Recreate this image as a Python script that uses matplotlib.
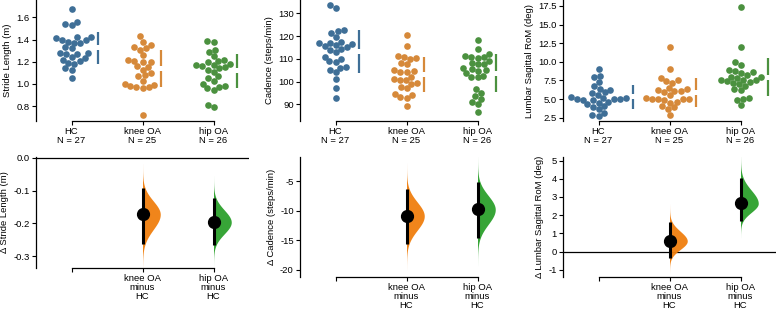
import numpy as np
import matplotlib.pyplot as plt

plt.rcParams['font.family'] = ['Liberation Sans', 'DejaVu Sans']
plt.rcParams['font.size'] = 6.8

# ---- data ----
groups = ['HC', 'knee OA', 'hip OA']

stride_hc = [1.68, 1.56, 1.54, 1.53, 1.42, 1.42, 1.41, 1.40, 1.40, 1.38, 1.37, 1.37, 1.33, 1.32,
             1.28, 1.27, 1.28, 1.27, 1.24, 1.23, 1.22, 1.21, 1.19, 1.18, 1.14, 1.13, 1.05]
stride_knee = [1.43, 1.38, 1.35, 1.33, 1.32, 1.31, 1.26, 1.22, 1.21, 1.20, 1.20, 1.16, 1.15,
               1.13, 1.10, 1.08, 1.07, 1.03, 1.00, 0.99, 0.98, 0.97, 0.97, 0.96, 0.72]
stride_hip = [1.39, 1.38, 1.31, 1.29, 1.25, 1.22, 1.21, 1.20, 1.18, 1.17, 1.17, 1.16, 1.15,
              1.14, 1.13, 1.11, 1.07, 1.05, 1.03, 1.00, 0.98, 0.97, 0.96, 0.95, 0.81, 0.79]

cadence_hc = [133.5, 132.5, 122.5, 122.0, 121.5, 119.5, 117.5, 117.0, 117.0, 116.5, 116.0, 115.5,
              115.0, 114.5, 114.0, 113.0, 111.0, 110.0, 109.0, 108.5, 106.5, 106.0, 105.0, 104.0,
              101.0, 97.0, 93.0]
cadence_knee = [120.3, 115.5, 111.4, 111.0, 110.5, 109.8, 108.3, 107.5, 105.0, 104.5, 104.3, 104.0,
                102.2, 101.0, 100.8, 100.5, 99.5, 98.8, 97.8, 97.0, 94.5, 94.0, 93.3, 93.0, 89.1]
cadence_hip = [118.1, 114.3, 111.9, 111.4, 111.0, 110.8, 110.5, 109.0, 108.3, 107.8, 107.6, 106.0,
               105.5, 105.0, 104.6, 103.6, 102.5, 102.0, 101.8, 96.7, 95.2, 93.8, 92.4, 90.9, 90.1, 86.5]

lumbar_hc = [9.0, 8.1, 7.9, 7.3, 6.7, 6.4, 6.2, 5.9, 5.8, 5.6, 5.3, 5.2, 5.1, 5.0, 5.0, 5.0, 4.9,
             4.9, 4.6, 4.5, 4.3, 4.0, 3.9, 3.6, 3.1, 2.9, 2.7]
lumbar_knee = [12.0, 9.1, 7.8, 7.6, 7.4, 7.2, 6.5, 6.3, 6.2, 6.1, 6.1, 6.0, 5.6, 5.1, 5.0, 5.0, 5.0,
               5.0, 4.9, 4.6, 4.5, 4.0, 3.9, 3.7, 2.9]
lumbar_hip = [17.4, 12.0, 10.0, 9.6, 8.9, 8.8, 8.6, 8.5, 8.2, 8.0, 7.9, 7.8, 7.6, 7.6, 7.5, 7.4, 7.3,
              7.2, 7.0, 6.8, 6.3, 6.2, 5.2, 5.0, 4.9, 4.2]

# mean differences (OA minus HC) with 95% CI
stride_delta = [-0.172, -0.196]
stride_ci = [(-0.263, -0.092), (-0.266, -0.123)]
cadence_delta = [-10.9, -9.8]
cadence_ci = [(-15.6, -6.3), (-14.7, -5.2)]
lumbar_delta = [0.58, 2.65]
lumbar_ci = [(-0.33, 1.63), (1.68, 4.07)]

raw_labels = ['Stride Length (m)', 'Cadence (steps/min)', 'Lumbar Sagittal RoM (deg)']
delta_labels = ['\u0394 Stride Length (m)', '\u0394 Cadence (steps/min)',
                '\u0394 Lumbar Sagittal RoM (deg)']
raw_ticks = [[0.8, 1.0, 1.2, 1.4, 1.6], [90, 100, 110, 120, 130],
             [2.5, 5.0, 7.5, 10.0, 12.5, 15.0, 17.5]]
delta_ticks = [[-0.3, -0.2, -0.1, 0.0], [-20, -15, -10, -5], [-1, 0, 1, 2, 3, 4, 5]]

# ---- layout / style ----
W, H = 778, 309
swarm_colors = ['#3f6f97', '#d6893a', '#4b913f']
violin_colors = ['#f07f0e', '#2ca02c']
col_left = [36, 300, 563]
col_width = 213
top_box = (0, 121)
bottom_box = [(157, 111), (157, 120), (157, 120)]
raw_ylim = [(0.666, 1.757), (82.7, 135.8), (2.05, 18.3)]
delta_ylim = [(-0.336, 0.003), (-21.2, -0.95), (-1.4, 5.2)]
raw_fmt = ['%.1f', '%d', '%.1f']
delta_fmt = ['%.1f', '%d', '%d']


def box(left, top, width, height):
    return [left / W, 1 - (top + height) / H, width / W, height / H]


def swarm_offsets(values, y_px_per_unit, d=6.2):
    # greedy beeswarm in pixel space, returns x offsets in pixels
    order = np.argsort(values)
    ys = np.asarray(values, dtype=float)[order] * y_px_per_unit
    placed = []
    xs_out = np.zeros(len(values))
    for k, y in zip(order, ys):
        cands = [0.0]
        for px, py in placed:
            dy = y - py
            if abs(dy) < d:
                dx = np.sqrt(d * d - dy * dy)
                cands += [px + dx, px - dx]
        cands.sort(key=lambda c: (abs(c), c))
        for c in cands:
            if all((c - px) ** 2 + (y - py) ** 2 >= d * d - 1e-6 for px, py in placed):
                break
        placed.append((c, y))
        xs_out[k] = c
    return xs_out


def style_axes(ax):
    for s in ['top', 'right']:
        ax.spines[s].set_visible(False)
    for s in ['left', 'bottom']:
        ax.spines[s].set_linewidth(0.9)
    ax.spines['bottom'].set_bounds(0, 2)
    ax.tick_params(length=3, width=0.8, pad=1.5, labelsize=6.8)
    ax.set_xlim(-0.5, 2.5)


raw_sets = [[stride_hc, stride_knee, stride_hip],
            [cadence_hc, cadence_knee, cadence_hip],
            [lumbar_hc, lumbar_knee, lumbar_hip]]
deltas = [stride_delta, cadence_delta, lumbar_delta]
cis = [stride_ci, cadence_ci, lumbar_ci]

fig = plt.figure(figsize=(W / 100, H / 100), dpi=100)
x_per_px = 3.0 / col_width

for c in range(3):
    # ---- raw data swarm ----
    ax = fig.add_axes(box(col_left[c], top_box[0], col_width, top_box[1]))
    style_axes(ax)
    lo, hi = raw_ylim[c]
    ax.set_ylim(lo, hi)
    y_ppu = top_box[1] / (hi - lo)
    for g, vals in enumerate(raw_sets[c]):
        vals = np.asarray(vals)
        off = swarm_offsets(vals, y_ppu)
        ax.scatter(g + off * x_per_px, vals, s=23, color=swarm_colors[g], lw=0, zorder=3)
        m, sd = vals.mean(), vals.std(ddof=1)
        lx = g + (off.max() + 7) * x_per_px
        gap = 2.5 / y_ppu
        ax.plot([lx, lx], [m - sd, m - gap], color=swarm_colors[g], lw=1.6, solid_capstyle='butt')
        ax.plot([lx, lx], [m + gap, m + sd], color=swarm_colors[g], lw=1.6, solid_capstyle='butt')
    ax.set_xticks([0, 1, 2])
    ax.set_xticklabels([f'{name}\nN = {len(v)}' for name, v in zip(groups, raw_sets[c])],
                       linespacing=0.95)
    ax.set_yticks(raw_ticks[c])
    ax.yaxis.set_major_formatter(plt.FormatStrFormatter(raw_fmt[c]))
    ax.set_ylabel(raw_labels[c], fontsize=6.8, labelpad=3)

    # ---- effect sizes ----
    top, height = bottom_box[c]
    bx = fig.add_axes(box(col_left[c], top, col_width, height))
    style_axes(bx)
    lo, hi = delta_ylim[c]
    bx.set_ylim(lo, hi)
    if lo <= 0 <= hi:
        bx.axhline(0, color='black', lw=0.9, zorder=1)
    for i in range(2):
        xpos = i + 1
        d = deltas[c][i]
        ci_lo, ci_hi = cis[c][i]
        s_lo = (d - ci_lo) / 1.96
        s_hi = (ci_hi - d) / 1.96
        yy = np.linspace(d - 3.8 * s_lo, d + 3.8 * s_hi, 300)
        sig = np.where(yy < d, s_lo, s_hi)
        dens = np.exp(-0.5 * ((yy - d) / sig) ** 2)
        bx.fill_betweenx(yy, xpos, xpos + 0.25 * dens, color=violin_colors[i], lw=0,
                         alpha=0.95, zorder=2)
        bx.plot([xpos, xpos], [ci_lo, ci_hi], color='black', lw=2.2, zorder=3,
                solid_capstyle='butt')
        bx.plot(xpos, d, 'o', color='black', ms=8.5, zorder=4)
    bx.set_xticks([0, 1, 2])
    bx.set_xticklabels([''] + [f'{name}\nminus\n{groups[0]}' for name in groups[1:]],
                       linespacing=0.95)
    bx.set_yticks(delta_ticks[c])
    bx.yaxis.set_major_formatter(plt.FormatStrFormatter(delta_fmt[c]))
    bx.set_ylabel(delta_labels[c], fontsize=6.8, labelpad=3)

fig.savefig('out.png', dpi=100)
